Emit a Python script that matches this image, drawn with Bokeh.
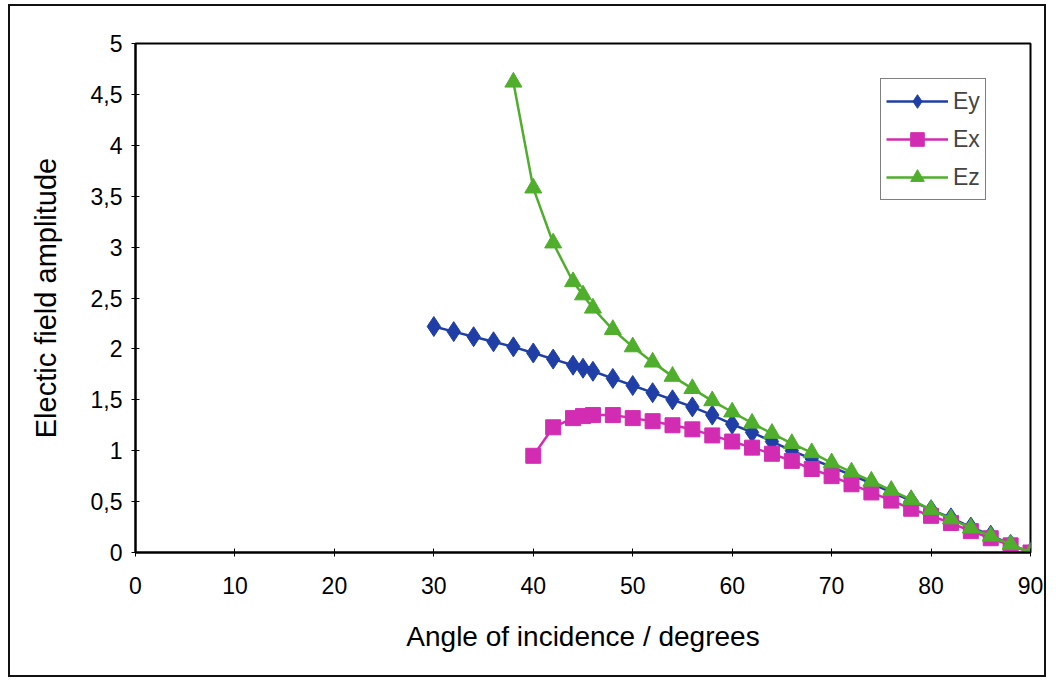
from bokeh.plotting import figure
from bokeh.models import Range1d, FixedTicker, Legend, LegendItem
from bokeh.embed import file_html
from bokeh.resources import INLINE

# ---- data ----
angle_ey = [30, 32, 34, 36, 38, 40, 42, 44, 45, 46, 48, 50, 52, 54, 56, 58, 60, 62, 64,
            66, 68, 70, 72, 74, 76, 78, 80, 82, 84, 86, 88, 90]
ey = [2.22, 2.17, 2.12, 2.07, 2.02, 1.96, 1.90, 1.84, 1.81, 1.78, 1.71, 1.64, 1.57, 1.50,
      1.43, 1.35, 1.26, 1.18, 1.09, 1.00, 0.92, 0.84, 0.76, 0.68, 0.59, 0.51, 0.42, 0.34,
      0.25, 0.17, 0.08, 0.0]

angle_ex = [40, 42, 44, 45, 46, 48, 50, 52, 54, 56, 58, 60, 62, 64, 66, 68, 70, 72, 74,
            76, 78, 80, 82, 84, 86, 88, 90]
ex = [0.95, 1.23, 1.32, 1.34, 1.35, 1.35, 1.32, 1.29, 1.25, 1.21, 1.15, 1.09, 1.03, 0.97,
      0.90, 0.82, 0.75, 0.67, 0.59, 0.51, 0.43, 0.36, 0.29, 0.21, 0.14, 0.07, 0.0]

angle_ez = [38, 40, 42, 44, 45, 46, 48, 50, 52, 54, 56, 58, 60, 62, 64, 66, 68, 70, 72,
            74, 76, 78, 80, 82, 84, 86, 88, 90]
ez = [4.62, 3.58, 3.04, 2.66, 2.53, 2.40, 2.19, 2.02, 1.87, 1.73, 1.61, 1.49, 1.38, 1.27,
      1.17, 1.07, 0.98, 0.88, 0.79, 0.70, 0.61, 0.52, 0.42, 0.33, 0.24, 0.16, 0.08, 0.0]

x_ticks = [0, 10, 20, 30, 40, 50, 60, 70, 80, 90]
x_tick_labels = ["0", "10", "20", "30", "40", "50", "60", "70", "80", "90"]
y_ticks = [0, 0.5, 1, 1.5, 2, 2.5, 3, 3.5, 4, 4.5, 5]
y_tick_labels = ["0", "0,5", "1", "1,5", "2", "2,5", "3", "3,5", "4", "4,5", "5"]

series_names = ["Ey", "Ex", "Ez"]
colors = ["#1f3fa6", "#d22db2", "#4fae2c"]

FONT = "Liberation Sans"

p = figure(width=1038, height=673, output_backend="svg", toolbar_location=None,
           x_range=Range1d(0, 90), y_range=Range1d(0, 5),
           min_border_left=125, min_border_right=18, min_border_top=37,
           min_border_bottom=127)
p.margin = (4, 0, 0, 8)
p.styles = {"border": "2px solid #111111"}

p.xgrid.visible = False
p.ygrid.visible = False
p.outline_line_color = "black"
p.outline_line_width = 2
p.background_fill_color = "white"
p.border_fill_color = "white"

for ax in (p.xaxis, p.yaxis):
    ax.axis_line_color = "black"
    ax.axis_line_width = 2
    ax.major_tick_line_color = "black"
    ax.major_tick_line_width = 1
    ax.major_tick_in = 4
    ax.major_tick_out = 4
    ax.minor_tick_line_color = None
    ax.major_label_text_font = FONT
    ax.major_label_text_color = "black"
    ax.axis_label_text_font = FONT
    ax.axis_label_text_font_style = "normal"
    ax.axis_label_text_color = "black"

p.xaxis.ticker = FixedTicker(ticks=x_ticks)
p.xaxis.major_label_overrides = {t: l for t, l in zip(x_ticks, x_tick_labels)}
p.yaxis.ticker = FixedTicker(ticks=y_ticks)
p.yaxis.major_label_overrides = {t: l for t, l in zip(y_ticks, y_tick_labels)}
p.xaxis.major_label_text_font_size = "23px"
p.yaxis.major_label_text_font_size = "23px"
p.xaxis.major_label_standoff = 20
p.yaxis.major_label_standoff = 9
p.xaxis.axis_label = "Angle of incidence / degrees"
p.yaxis.axis_label = "Electic field amplitude"
p.xaxis.axis_label_text_font_size = "28px"
p.yaxis.axis_label_text_font_size = "29px"
p.xaxis.axis_label_standoff = 24
p.yaxis.axis_label_standoff = 26

xs = [angle_ey, angle_ex, angle_ez]
ys = [ey, ex, ez]
markers = ["diamond", "square", "triangle"]
sizes = [20, 15, 17]
items = []
for name, x, y, c, m, s in zip(series_names, xs, ys, colors, markers, sizes):
    ln = p.line(x, y, line_color=c, line_width=2.5)
    sc = p.scatter(x, y, marker=m, size=s, fill_color=c, line_color=c)
    items.append(LegendItem(label=name, renderers=[ln, sc]))

legend = Legend(items=items, location=(745, 352), border_line_color="black",
                border_line_width=1, label_text_font=FONT, label_text_font_size="23px",
                glyph_width=62, glyph_height=34, label_height=20, spacing=4,
                padding=5, margin=0, label_standoff=5, background_fill_color="white")
p.add_layout(legend, "center")

open("out.html", "w").write(file_html(p, INLINE))
